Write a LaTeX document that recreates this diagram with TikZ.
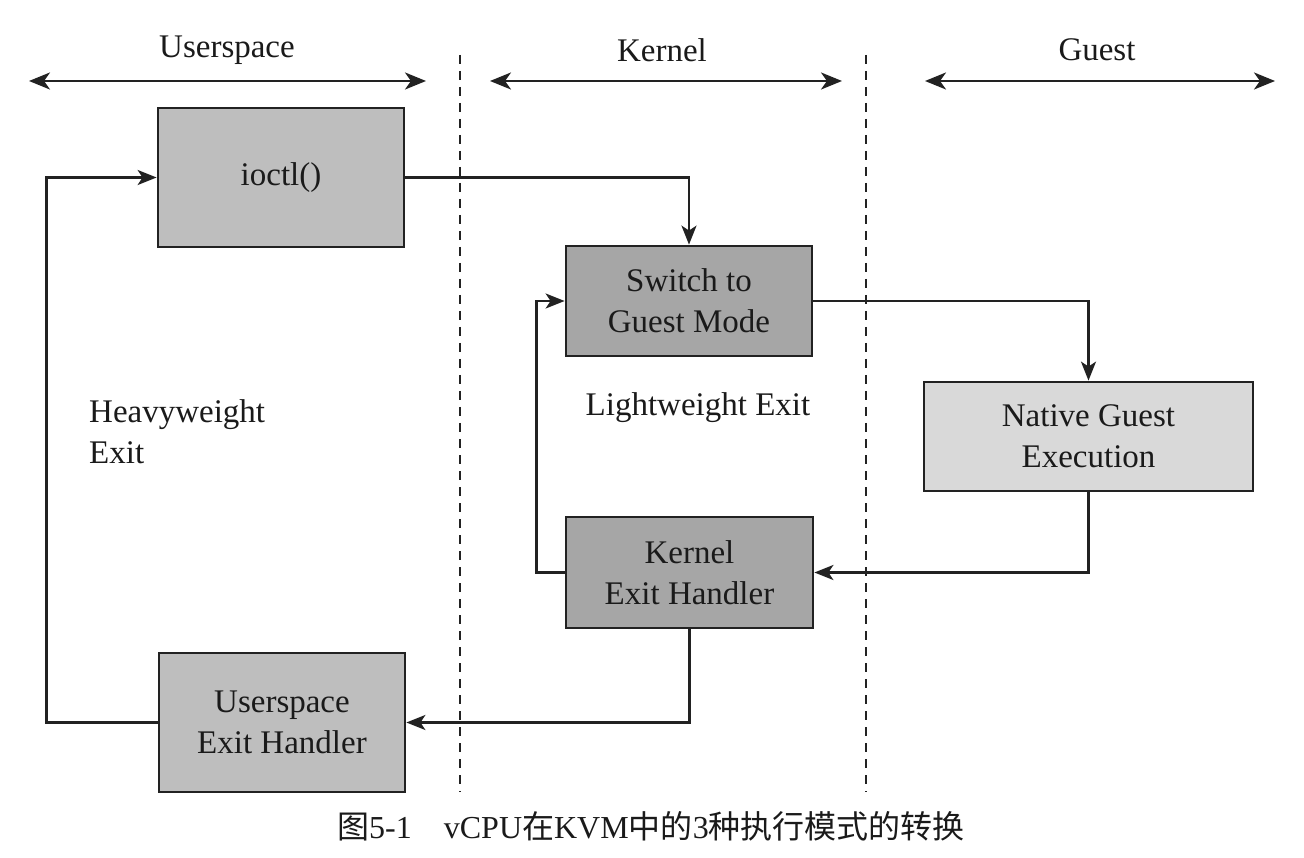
\documentclass[tikz,border=0pt]{standalone}
\usepackage{fontspec}
\setmainfont{Liberation Serif}
\newfontfamily\cjk{Noto Sans CJK SC}
\usetikzlibrary{arrows.meta}
\definecolor{lineC}{HTML}{222222}
\definecolor{textC}{HTML}{1A1A1A}
\definecolor{fillMid}{HTML}{BEBEBE}
\definecolor{fillDark}{HTML}{A6A6A6}
\definecolor{fillLight}{HTML}{D9D9D9}
\tikzset{
  box/.style={draw=lineC, line width=2.8pt, inner sep=0pt, align=center,
    text=textC, font=\fontsize{33}{41}\selectfont},
  midbox/.style={box, fill=fillMid},
  darkbox/.style={box, fill=fillDark},
  lightbox/.style={box, fill=fillLight},
  lbl/.style={text=textC, font=\fontsize{33}{41}\selectfont, inner sep=0pt},
  conn/.style={draw=lineC, line width=2.3pt, -{Stealth[length=19pt,width=15pt,inset=5pt]}},
  span/.style={draw=lineC, line width=2.6pt,
    {Stealth[length=21pt,width=17pt,inset=6pt]}-{Stealth[length=21pt,width=17pt,inset=6pt]}},
  divider/.style={draw=lineC, line width=2.2pt, dash pattern=on 9pt off 7pt}
}
\begin{document}
\begin{tikzpicture}[x=1pt,y=-1pt]
\useasboundingbox[fill=white] (0,0) rectangle (1304,858);

% region spans
\coordinate (u1) at (29,81);  \coordinate (u2) at (426,81);
\coordinate (k1) at (490,81); \coordinate (k2) at (842,81);
\coordinate (g1) at (925,81); \coordinate (g2) at (1275,81);
\draw[span] (u1) -- (u2);
\draw[span] (k1) -- (k2);
\draw[span] (g1) -- (g2);
\node[lbl] (tu) at (227,50) {Userspace};
\node[lbl] (tk) at (662,50) {Kernel};
\node[lbl] (tg) at (1097,50) {Guest};

% dividers
\coordinate (d1a) at (460,55); \coordinate (d1b) at (460,792);
\coordinate (d2a) at (866,55); \coordinate (d2b) at (866,792);
\draw[divider] (d1a) -- (d1b);
\draw[divider] (d2a) -- (d2b);

% boxes
\node[midbox, minimum width=246pt, minimum height=139pt] (io) at (281,177.5) {ioctl()};
\node[midbox, minimum width=246pt, minimum height=139pt] (ue) at (282,722.5) {Userspace\\Exit Handler};
\node[darkbox, minimum width=246pt, minimum height=110pt] (sw) at (689,301) {Switch to\\Guest Mode};
\node[darkbox, minimum width=247pt, minimum height=111pt] (ke) at (689.5,572.5) {Kernel\\Exit Handler};
\node[lightbox, minimum width=329pt, minimum height=109pt] (nat) at (1088.5,436.5) {Native Guest\\Execution};

% labels
\node[lbl, align=left, anchor=west] (hv) at (89,432) {Heavyweight\\Exit};
\node[lbl] (lw) at (698,408) {Lightweight Exit};

% connectors
\draw[conn] (io.east) -| (sw.north);
\draw[conn] (sw.east) -| (nat.north);
\draw[conn] (nat.south) |- (ke.east);
\draw[conn] (ke.west) -- ++(-28,0) |- (sw.west);
\draw[conn] (ke.south) |- (ue.east);
\draw[conn] (ue.west) -- ++(-111,0) |- (io.west);

% caption
\node[text=textC, font=\fontsize{32}{38}\selectfont, inner sep=0pt] (cap) at (651,826)
  {{\cjk 图}5-1{\cjk 　}vCPU{\cjk 在}KVM{\cjk 中的}3{\cjk 种执行模式的转换}};
\end{tikzpicture}
\end{document}
